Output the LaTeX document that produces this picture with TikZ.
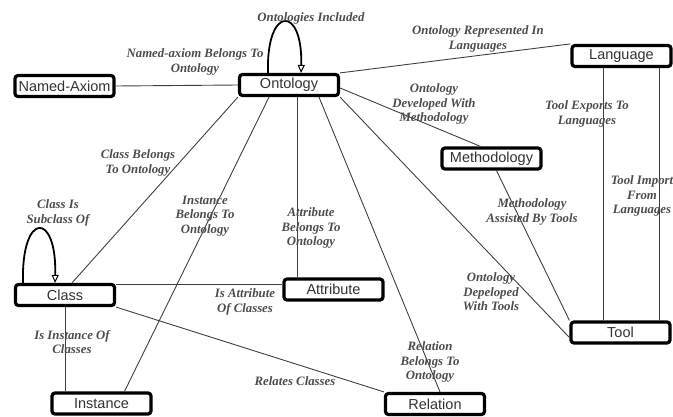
\documentclass[tikz,border=0pt]{standalone}
\usepackage{fontspec}
\setmainfont{Liberation Serif}
\newfontfamily\boxfont{Liberation Sans}
\usetikzlibrary{arrows.meta}
\begin{document}
\begin{tikzpicture}[x=1pt,y=-1pt,
 entity/.style={draw=black, line width=3.2pt, rounded corners=3pt, fill=white, minimum width=99pt, minimum height=21pt, inner sep=0pt, font=\boxfont\fontsize{14.5}{16}\selectfont, text=black!80},
 rel/.style={font=\bfseries\itshape\fontsize{12.8}{14.6}\selectfont, text=black!70, align=center, inner sep=0pt},
 conn/.style={draw=black!75, line width=0.9pt},
 selfloop/.style={draw=black, line width=1.8pt, -{Triangle[open,length=8pt,width=7pt,line width=1pt]}}
]
\useasboundingbox (0,0) rectangle (673,416);

% entities
\node[entity] (ont)  at (289,85)    {Ontology};
\node[entity] (nax)  at (64.5,86)   {Named-Axiom};
\node[entity] (lang) at (621.5,56)  {Language};
\node[entity] (meth) at (491.5,158.5) {Methodology};
\node[entity] (cls)  at (65,295)    {Class};
\node[entity] (attr) at (333.5,289.5) {Attribute};
\node[entity] (inst) at (101.5,403.5) {Instance};
\node[entity] (relt) at (435,404)   {Relation};
\node[entity] (tool) at (620.5,332.5) {Tool};

% connectors
\draw[conn] (nax.east) -- (ont.west);
\draw[conn] (ont.north east) -- (lang.north west);
\draw[conn] ([yshift=-3pt]ont.east) -- ([xshift=-11pt]meth.north);
\draw[conn] (ont.south east) -- ([yshift=-5pt]tool.west);
\draw[conn] ([xshift=30pt]ont.south) -- ([xshift=5pt]relt.north);
\draw[conn] ([xshift=8pt]ont.south) -- ([xshift=8pt]ont.south |- attr.north);
\draw[conn] ([xshift=-20pt]ont.south) -- ([xshift=23pt]inst.north);
\draw[conn] (ont.south west) -- ([xshift=7pt]cls.north);
\draw[conn] ([xshift=5pt]meth.south) -- (tool.north west);
\draw[conn] ([xshift=-18pt]lang.south) -- ([xshift=-18pt]lang.south |- tool.north);
\draw[conn] ([xshift=38pt]lang.south) -- ([xshift=38pt]lang.south |- tool.north);
\draw[conn] ([yshift=-2pt]cls.north east) -- ([yshift=-2pt]cls.north east -| attr.west);
\draw[conn] (cls.south) -- (cls.south |- inst.north);
\draw[conn] (cls.south east) -- (relt.north west);

% self loops
\draw[selfloop] ([xshift=-21pt]ont.north) .. controls +(-2,-68) and +(2,-68) .. ([xshift=12pt]ont.north);
\draw[selfloop] ([xshift=-42pt]cls.north) .. controls +(-2,-72) and +(2,-72) .. ([xshift=-10pt]cls.north);

% labels
\node[rel] (l1)  at (311,18)  {Ontologies Included};
\node[rel] (l2)  at (195,62)  {Named-axiom Belongs To\\Ontology};
\node[rel] (l3)  at (478,39)  {Ontology Represented In\\Languages};
\node[rel] (l4)  at (434,104) {Ontology\\Developed With\\Methodology};
\node[rel] (l5)  at (587,114) {Tool Exports To\\Languages};
\node[rel] (l6)  at (642,196) {Tool Import\\From\\Languages};
\node[rel] (l7)  at (138,163) {Class Belongs\\To Ontology};
\node[rel] (l8)  at (58,213)  {Class Is\\Subclass Of};
\node[rel] (l9)  at (205,216) {Instance\\Belongs To\\Ontology};
\node[rel] (l10) at (311,228) {Attribute\\Belongs To\\Ontology};
\node[rel] (l11) at (532,212) {Methodology\\Assisted By Tools};
\node[rel] (l12) at (491,292) {Ontology\\Depeloped\\With Tools};
\node[rel] (l13) at (245,302) {Is Attribute\\Of Classes};
\node[rel] (l14) at (72,342)  {Is Instance Of\\Classes};
\node[rel] (l15) at (295,381) {Relates Classes};
\node[rel] (l16) at (430,362) {Relation\\Belongs To\\Ontology};
\end{tikzpicture}
\end{document}
